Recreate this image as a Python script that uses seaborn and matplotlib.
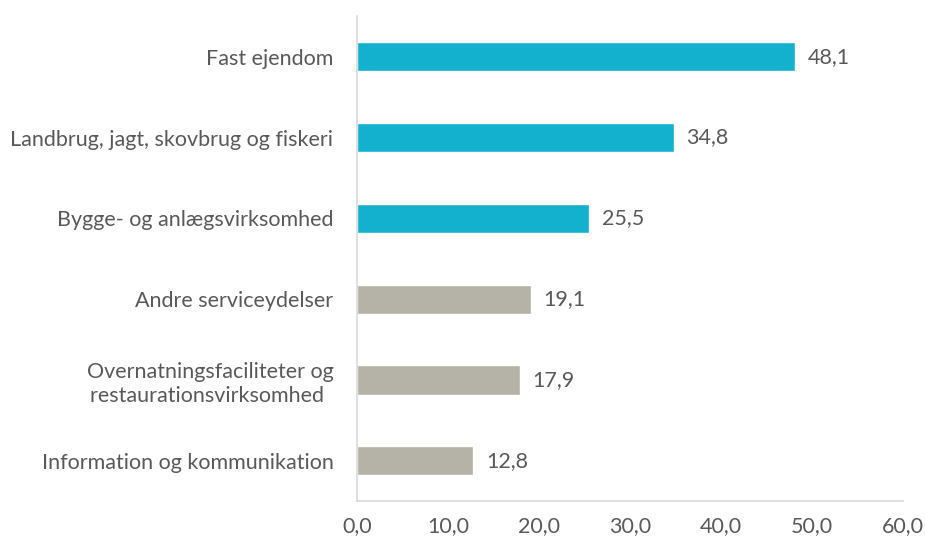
import matplotlib
matplotlib.use("Agg")
import matplotlib.pyplot as plt
import seaborn as sns
import pandas as pd

categories = [
    "Fast ejendom",
    "Landbrug, jagt, skovbrug og fiskeri",
    "Bygge- og anlægsvirksomhed",
    "Andre serviceydelser",
    "Overnatningsfaciliteter og\nrestaurationsvirksomhed ",
    "Information og kommunikation",
]
values = [48.1, 34.8, 25.5, 19.1, 17.9, 12.8]
bar_colors = ["#14B1CE", "#14B1CE", "#14B1CE", "#B5B3A7", "#B5B3A7", "#B5B3A7"]
x_ticks = [0, 10, 20, 30, 40, 50, 60]

sns.set_style("white")
plt.rcParams["font.family"] = ["Lato", "DejaVu Sans"]
text_color = "#595959"
fs = 15.5

df = pd.DataFrame({"category": categories, "value": values})

fig = plt.figure(figsize=(9.25, 5.43), dpi=100)
ax = fig.add_axes([0.386, 0.077, 0.590, 0.893])

sns.barplot(data=df, x="value", y="category", hue="category",
            palette=bar_colors, legend=False, width=0.36, ax=ax, saturation=1)

for i, v in enumerate(values):
    ax.text(v + 1.4, i, f"{v:.1f}".replace(".", ","), va="center", ha="left",
            fontsize=fs, color=text_color)

ax.set_xlim(0, 60)
ax.set_xticks(x_ticks)
ax.set_xticklabels([f"{t:.1f}".replace(".", ",") for t in x_ticks])
ax.set_xlabel("")
ax.set_ylabel("")
ax.tick_params(axis="both", length=0, labelsize=fs, colors=text_color)
ax.tick_params(axis="x", pad=11)
ax.tick_params(axis="y", pad=17)
for lab in ax.get_yticklabels():
    lab.set_horizontalalignment("right")
    lab.set_multialignment("center")
    lab.set_linespacing(1.25)

for side in ["top", "right"]:
    ax.spines[side].set_visible(False)
for side in ["left", "bottom"]:
    ax.spines[side].set_color("#D9D9D9")
    ax.spines[side].set_linewidth(1.2)

fig.savefig("out.png", dpi=100)
